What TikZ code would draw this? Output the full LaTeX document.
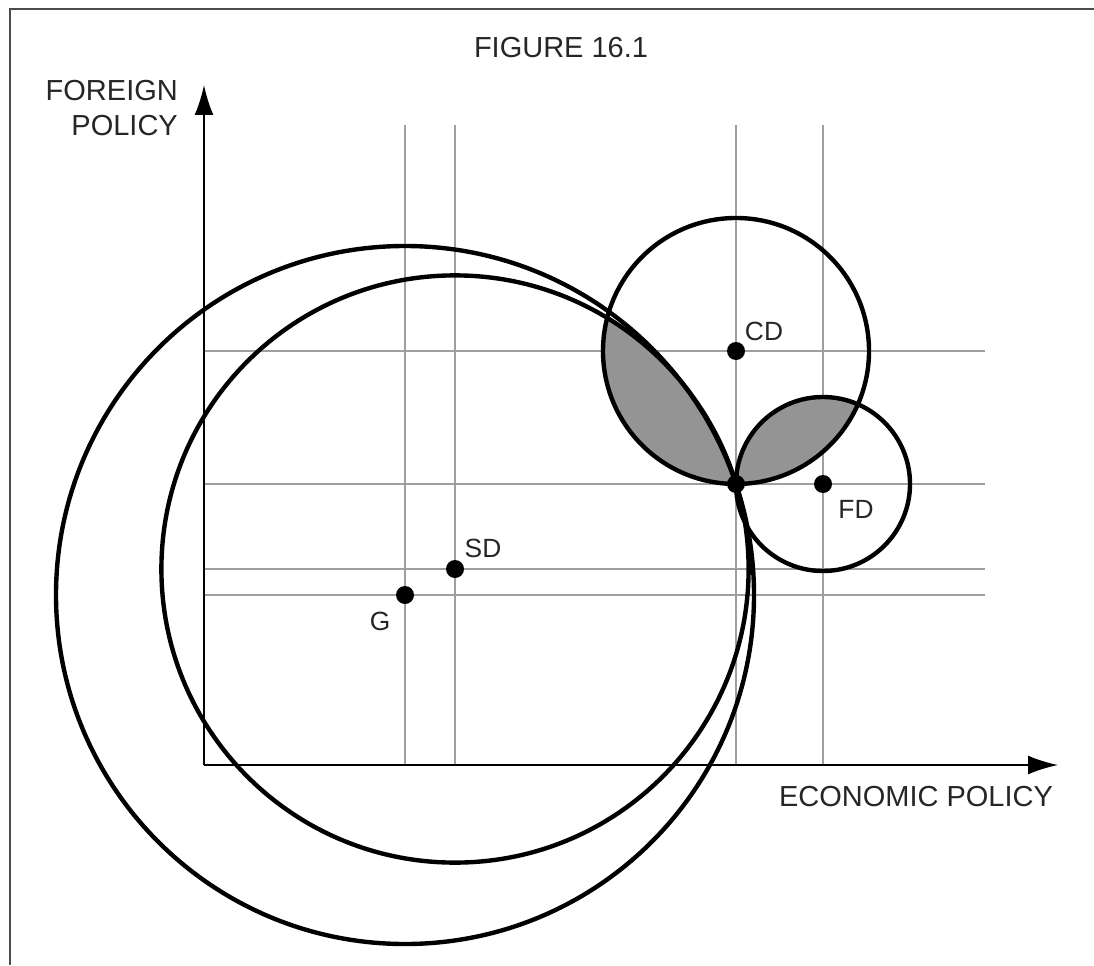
\documentclass[tikz,border=0pt]{standalone}
\usepackage{fontspec}
\setmainfont{Liberation Sans}
\usetikzlibrary{arrows.meta}
\usetikzlibrary{calc}
\colorlet{gridlines}{gray!75}
\colorlet{lensfill}{black!42}

\tikzset{
    party/.style={circle, fill=black, inner sep=0pt, minimum size=0.36cm},
    partylabel/.style={font=\fontsize{15}{18}\selectfont, text=black!85},
    axislabel/.style={font=\fontsize{16.5}{20}\selectfont, text=black!85},
    curve/.style={line width=2.5pt},
    axis/.style={line width=1.1pt, -{Latex[length=0.6cm, width=0.38cm]}}
}

\begin{document}
\begin{tikzpicture}[x=0.02cm, y=0.02cm]
        \useasboundingbox (0,0) rectangle (1094,965);
        % frame
        \draw[line width=1.6pt, black!70] (1094,956) -- (10,956) -- (10,0);
        \node[axislabel] (title) at (561,917) {FIGURE 16.1};

        \coordinate (O) at (204,200);
        \coordinate (ytop) at (204,880);
        \coordinate (xend) at (1058,200);
        \coordinate (gtop) at (204,840);
        \coordinate (gright) at (985,200);

        % party positions
        \coordinate (G) at (405,370);
        \coordinate (SD) at (455,396);
        \coordinate (CD) at (736,614);
        \coordinate (FD) at (823,481);
        \coordinate (meet) at (736,481);

        \foreach \p in {G,SD,CD,FD}
        {
            \draw[gridlines, line width=0.6pt] (\p |- gtop) -- (\p |- O);
            \draw[gridlines, line width=0.6pt] (\p -| O) -- (\p -| gright);
        }

        \draw[axis] (O) -- (ytop);
        \draw[axis] (O) -- (xend);
        \node[axislabel, align=right, anchor=east] (ylabel) at (184,857) {FOREIGN\\POLICY};
        \node[axislabel] (xlabel) at (916,168) {ECONOMIC POLICY};

        % shaded lenses
        \begin{scope}
            \clip (CD) circle[radius=133];
            \fill[lensfill] (FD) circle[radius=87];
        \end{scope}
        \begin{scope}
            \clip (CD) circle[radius=133];
            \clip (G) circle[radius=349];
            \fill[lensfill] (SD) circle[radius=293.6];
        \end{scope}

        \draw[curve] (G) circle[radius=349];
        \draw[curve] (SD) circle[radius=293.6];
        \draw[curve] (CD) circle[radius=133];
        \draw[curve] (FD) circle[radius=87];

        \foreach \p in {G,SD,CD,FD,meet}
        {
            \node[party] (\p dot) at (\p) {};
        }
        \node[partylabel] (Glabel) at ($(G)+(-25,-26)$) {G};
        \node[partylabel] (SDlabel) at ($(SD)+(28,21)$) {SD};
        \node[partylabel] (CDlabel) at ($(CD)+(28,20)$) {CD};
        \node[partylabel] (FDlabel) at ($(FD)+(33,-25)$) {FD};
    \end{tikzpicture}
\end{document}
